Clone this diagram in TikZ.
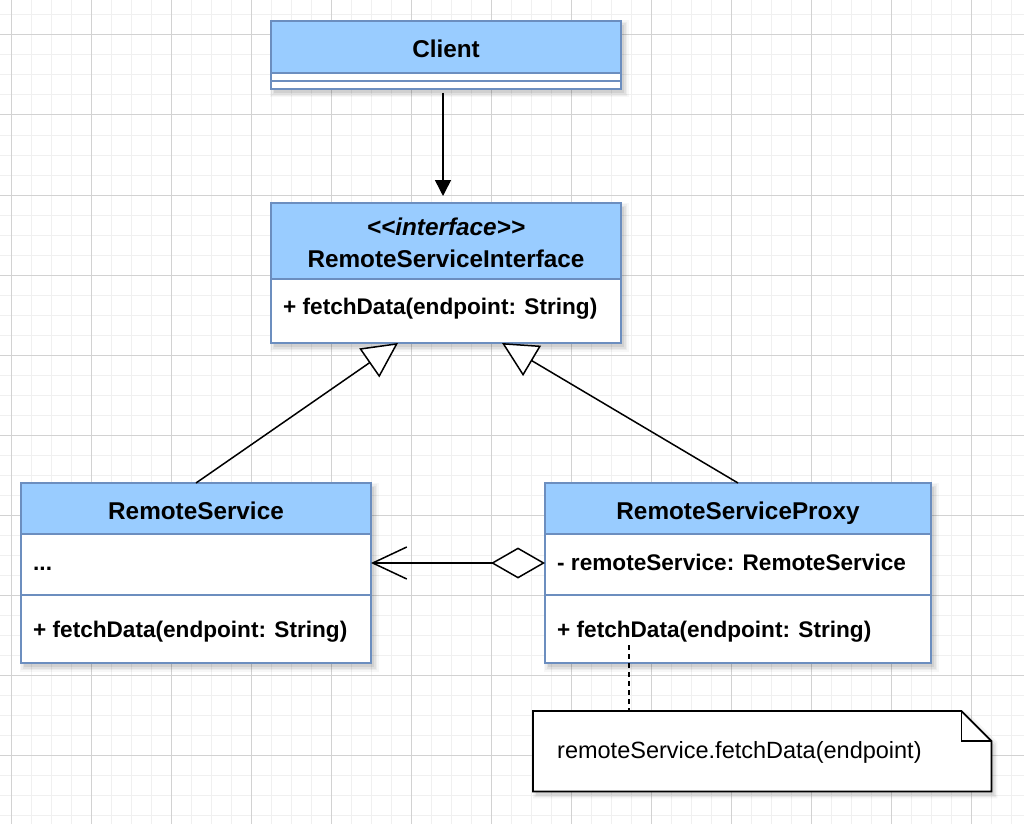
\documentclass[tikz,border=0pt]{standalone}
\usepackage{fontspec}
\setmainfont{Liberation Sans}
\usetikzlibrary{arrows.meta}

\definecolor{hdr}{HTML}{99CCFF}
\definecolor{bord}{HTML}{6C8EBF}
\definecolor{gminor}{HTML}{F0F0F0}
\definecolor{gmajor}{HTML}{D2D2D2}

\newcommand{\mysoftshadow}[4]{%
  \foreach \e/\a in {0/0.07,1.5/0.05,3/0.04,4.5/0.03}{%
    \fill[black,opacity=\a] (#1+3-\e,#2+4-\e) rectangle (#3+3+\e,#4+4+\e);}}

\begin{document}
\begin{tikzpicture}[x=1pt,y=-1pt,
  box/.style={draw=bord, line width=1.3pt, anchor=north west, inner sep=0pt, outer sep=0pt},
  hdrbox/.style={box, fill=hdr, font=\fontsize{24.3}{32}\selectfont\bfseries, align=center,
    text height=22pt, text depth=1pt},
  hdrtext/.style={anchor=base, font=\fontsize{24.3}{32}\selectfont\bfseries, inner sep=0pt},
  cmp/.style={box, fill=white},
  member/.style={anchor=base west, font=\fontsize{22.6}{27}\selectfont\bfseries, inner sep=0pt},
  conn/.style={line width=1.5pt, black},
  notebox/.style={draw=black, line width=1.8pt, fill=white, line join=miter},
  notetext/.style={anchor=base west, font=\fontsize{23.5}{28}\selectfont, inner sep=0pt},
  notelink/.style={line width=1.5pt, black, dash pattern=on 5pt off 4pt},
]
\useasboundingbox (0,0) rectangle (1024,824);
\fill[white] (0,0) rectangle (1024,824);
% grid
\foreach \x in {11,31,...,1011} \draw[gminor, line width=1pt] (\x,0) -- (\x,824);
\foreach \y in {15,35,...,815} \draw[gminor, line width=1pt] (0,\y) -- (1024,\y);
\foreach \x in {11,91,...,1011} \draw[gmajor, line width=1pt] (\x,0) -- (\x,824);
\foreach \y in {35,115,...,795} \draw[gmajor, line width=1pt] (0,\y) -- (1024,\y);

% shadows
\mysoftshadow{271}{21}{621}{89}
\mysoftshadow{271}{203}{621}{343}
\mysoftshadow{21}{483}{371}{663}
\mysoftshadow{545}{483}{931}{663}

% Client
\node[hdrbox, minimum width=350pt, minimum height=52pt] (client) at (271,21) {Client};
\node[cmp, minimum width=350pt, minimum height=8pt] (clientA) at (client.south west) {};
\node[cmp, minimum width=350pt, minimum height=8pt] (clientM) at (clientA.south west) {};

% Interface
\node[box, fill=hdr, minimum width=350pt, minimum height=76pt] (iface) at (271,203) {};
\node[hdrtext] (ifaceS) at (iface.north |- 0,235.5)
  {\textit{<\kern0pt<interface>\kern0pt>}};
\node[hdrtext] (ifaceN) at (iface.north |- 0,267.3) {RemoteServiceInterface};
\node[cmp, minimum width=350pt, minimum height=64pt] (ifaceM) at (iface.south west) {};
\node[member] (ifaceMt) at ([xshift=12pt,yshift=-3pt]ifaceM.west) {+ fetchData(endpoint: String)};

% RemoteService
\node[hdrbox, minimum width=350pt, minimum height=51pt] (rs) at (21,483) {RemoteService};
\node[cmp, minimum width=350pt, minimum height=61pt] (rsA) at (rs.south west) {};
\node[cmp, minimum width=350pt, minimum height=68pt] (rsM) at (rsA.south west) {};
\node[member] (rsAt) at ([xshift=12pt,yshift=-5.5pt]rsA.west) {...};
\node[member] (rsMt) at ([xshift=12pt,yshift=-8pt]rsM.west) {+ fetchData(endpoint: String)};

% RemoteServiceProxy
\node[hdrbox, minimum width=386pt, minimum height=51pt] (px) at (545,483) {RemoteServiceProxy};
\node[cmp, minimum width=386pt, minimum height=61pt] (pxA) at (px.south west) {};
\node[cmp, minimum width=386pt, minimum height=68pt] (pxM) at (pxA.south west) {};
\node[member] (pxAt) at ([xshift=12pt,yshift=-5.5pt]pxA.west) {- remoteService: RemoteService};
\node[member] (pxMt) at ([xshift=12pt,yshift=-8pt]pxM.west) {+ fetchData(endpoint: String)};

% Note
\node[anchor=north west, minimum width=458pt, minimum height=80pt, inner sep=0pt] (note) at (533,711) {};
\foreach \e/\a in {0/0.07,1.5/0.05,3/0.04}{%
  \fill[black, opacity=\a]
    ([xshift=3pt-\e pt,yshift=-4pt+\e pt]note.north west) -- ([xshift=-27pt+\e pt,yshift=-4pt+\e pt]note.north east)
    -- ([xshift=3pt+\e pt,yshift=-34pt+\e pt]note.north east) -- ([xshift=3pt+\e pt,yshift=-4pt-\e pt]note.south east)
    -- ([xshift=3pt-\e pt,yshift=-4pt-\e pt]note.south west) -- cycle;}
\draw[notebox] (note.north west) -- ([xshift=-30pt]note.north east) -- ([yshift=-30pt]note.north east)
  -- (note.south east) -- (note.south west) -- cycle;
\draw[notebox, fill=none] ([xshift=-30pt]note.north east) -- ([xshift=-30pt,yshift=-30pt]note.north east)
  -- ([yshift=-30pt]note.north east);
\node[notetext] (notet) at ([xshift=24pt,yshift=-7.3pt]note.west) {remoteService.fetchData(endpoint)};

% Connectors
\draw[conn, -{Triangle[length=16pt,width=16pt]}, shorten <=4pt, shorten >=7pt]
  ([xshift=-3pt]clientM.south) -- ([xshift=-3pt]iface.north);
\draw[conn, -{Triangle[open, length=35pt, width=35pt, fill=white]}]
  (rs.north) -- ([xshift=127pt]ifaceM.south west);
\draw[conn, -{Triangle[open, length=35pt, width=35pt, fill=white]}]
  (px.north) -- ([xshift=231pt]ifaceM.south west);
\draw[conn, {Diamond[open, length=54pt, width=31pt, fill=white]}-{Straight Barb[length=34pt, width=32pt]}]
  ([yshift=1.5pt]pxA.west) -- ([yshift=1.5pt]rsA.east);
\coordinate (dstart) at ([xshift=84pt,yshift=18pt]pxM.south west);
\draw[notelink] (dstart) -- (dstart |- note.north);
\end{tikzpicture}
\end{document}
